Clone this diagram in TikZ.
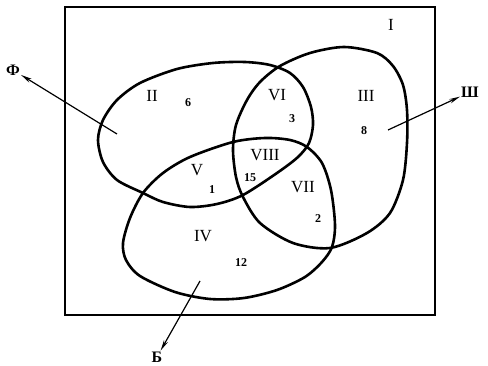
\documentclass[tikz,border=0pt]{standalone}
\usepackage{fontspec}
\setmainfont{Liberation Serif}
\usetikzlibrary{arrows.meta}
\begin{document}
\begin{tikzpicture}[x=1pt,y=-1pt,
  setline/.style={line width=2.6pt,line join=round},
  frame/.style={line width=1.8pt},
  region/.style={font=\fontsize{17}{17}\selectfont,inner sep=0pt},
  count/.style={font=\bfseries\fontsize{12}{12}\selectfont,inner sep=0pt},
  setname/.style={font=\bfseries\fontsize{16}{16}\selectfont,inner sep=1pt},
  pointer/.style={line width=1.2pt,-{Stealth[length=11pt,width=4.5pt]}}]
\useasboundingbox (0,0) rectangle (488,366);
\draw[frame] (65,7) rectangle (435,315);
% set F
\draw[setline] plot[smooth cycle] coordinates {(98,140) (103,120) (117,100) (140,83) (177,69) (213,63) (245,62) (270,65) (290,73) (303,87) (311,107) (313,125) (309,143) (298,157) (277,173) (243,195) (217,204) (190,207) (163,202) (143,193) (117,180) (103,162)};
% set Sh
\draw[setline] plot[smooth cycle] coordinates {(247,100) (236,125) (233,150) (236,177) (243,197) (260,223) (293,243) (330,248) (367,233) (390,213) (403,180) (407,143) (407,110) (403,85) (393,66) (377,53) (344,47) (310,53) (280,66) (260,82)};
% set B
\draw[setline] plot[smooth cycle] coordinates {(130,218) (143,193) (163,173) (190,157) (233,142) (265,138) (290,140) (307,147) (322,163) (331,190) (335,225) (332,247) (322,262) (305,277) (277,290) (244,298) (210,299) (175,292) (140,276) (126,260) (123,243)};
% region labels
\node[region] (rI) at (391,25) {I};
\node[region] (rII) at (152,96) {II};
\node[region] (rIII) at (366,96) {III};
\node[region] (rIV) at (203,236) {IV};
\node[region] (rV) at (197,170) {V};
\node[region] (rVI) at (277,95) {VI};
\node[region] (rVII) at (303,187) {VII};
\node[region] (rVIII) at (265,155) {VIII};
\node[count] (n6) at (188,103) {6};
\node[count] (n3) at (292,119) {3};
\node[count] (n8) at (364,131) {8};
\node[count] (n1) at (212,190) {1};
\node[count] (n15) at (250,178) {15};
\node[count] (n2) at (318,219) {2};
\node[count] (n12) at (241,263) {12};
% set names and pointers
\node[setname] (F) at (13,70) {Ф};
\node[setname] (Sh) at (470,92) {Ш};
\node[setname] (B) at (157,357) {Б};
\coordinate (fa) at (117,134);
\coordinate (sa) at (388,130);
\coordinate (ba) at (200,281);
\draw[pointer] (fa) -- (F);
\draw[pointer] (sa) -- (Sh);
\draw[pointer] (ba) -- (B);
\end{tikzpicture}
\end{document}
